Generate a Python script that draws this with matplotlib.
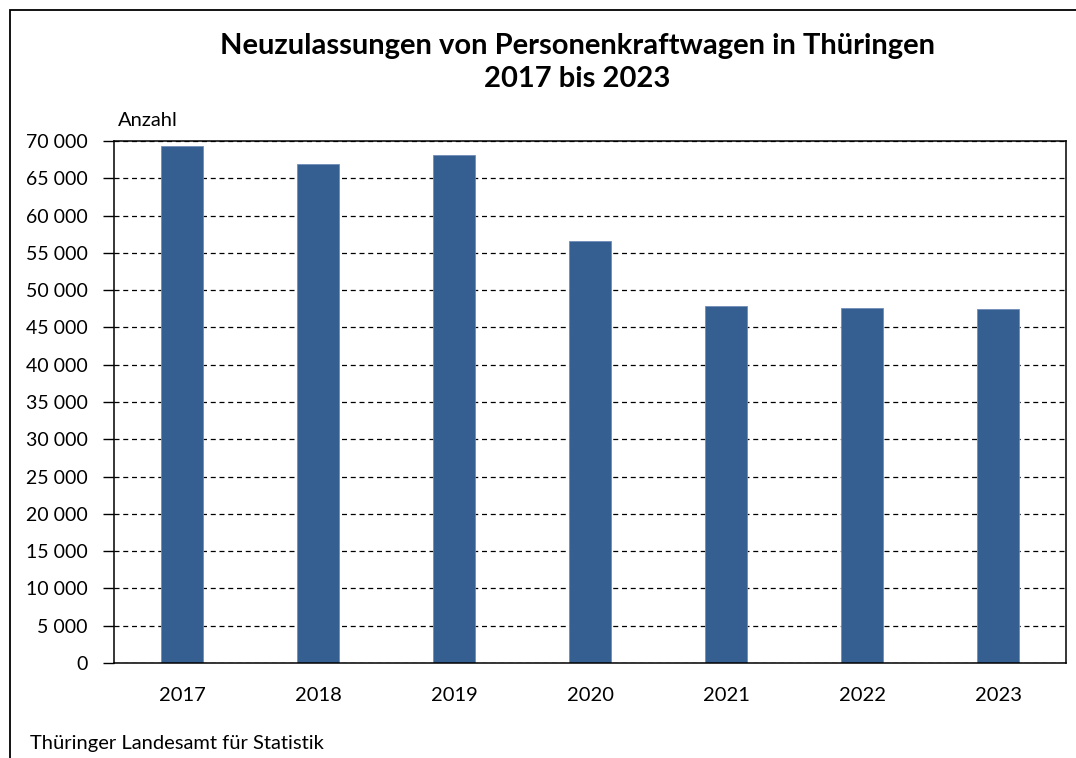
import matplotlib
matplotlib.use("Agg")
import matplotlib.pyplot as plt
from matplotlib.patches import Rectangle
from matplotlib.ticker import FuncFormatter, MultipleLocator

years = ["2017", "2018", "2019", "2020", "2021", "2022", "2023"]
values = [69330, 66920, 68060, 56570, 47820, 47640, 47450]

title = "Neuzulassungen von Personenkraftwagen in Thüringen\n2017 bis 2023"
y_label = "Anzahl"
source = "Thüringer Landesamt für Statistik"

plt.rcParams['font.family'] = ['Lato', 'DejaVu Sans']

W, H = 1076, 758
fig = plt.figure(figsize=(W / 100, H / 100), dpi=100)

# outer frame (left and top visible)
fig.patches.append(Rectangle((10 / W, -0.05), 1.2, (H - 10) / H + 0.05,
                             transform=fig.transFigure, fill=False,
                             edgecolor='black', linewidth=1.3))

ax = fig.add_axes([114 / W, (H - 663) / H, (1066 - 114) / W, (663 - 141) / H])
x = range(len(years))
ax.bar(x, values, width=0.31, color='#365F91', edgecolor='#6F8DB8',
       linewidth=0.6, zorder=3)
ax.set_xlim(-0.5, len(years) - 0.5)
ax.set_ylim(0, 70000)
ax.yaxis.set_major_locator(MultipleLocator(5000))
ax.yaxis.set_major_formatter(FuncFormatter(lambda v, p: f"{int(v):,}".replace(",", " ")))
ax.grid(axis='y', linestyle=(0, (4, 3)), color='black', linewidth=0.9, zorder=1)
ax.set_xticks(list(x))
ax.set_xticklabels(years)
ax.tick_params(axis='x', length=0, pad=17, labelsize=14.5)
ax.tick_params(axis='y', length=8, width=1, direction='out', labelsize=14, pad=11)
for s in ax.spines.values():
    s.set_linewidth(1.1)
    s.set_zorder(4)

fig.text(577 / W, 1 - 62.5 / H, title, ha='center', va='center',
         fontsize=21, fontweight='bold', linespacing=1.3)
fig.text(118 / W, 1 - 121 / H, y_label, ha='left', va='center', fontsize=14.5)
fig.text(30 / W, 1 - 743 / H, source, ha='left', va='center', fontsize=14.5)

fig.savefig("out.png", dpi=100)
